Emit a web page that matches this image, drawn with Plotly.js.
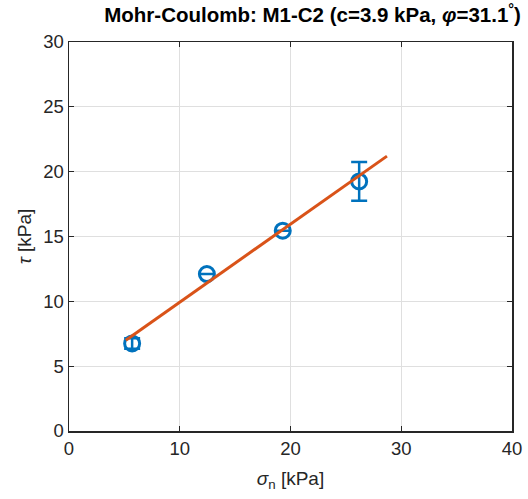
<!DOCTYPE html>
<html><head><meta charset="utf-8">
<script src="https://cdn.plot.ly/plotly-3.0.1.min.js"></script>
<style>html,body{margin:0;padding:0;background:#fff}#chart{width:528px;height:499px}</style>
</head><body><div id="chart"></div>
<script>
const sigmaN = [5.7, 12.45, 19.3, 26.2];
const tau = [6.75, 12.1, 15.45, 19.25];
const tauErr = [0.4, 0.0, 0.0, 1.5];
const fitX = [5.13, 28.71];
const fitY = [7.0, 21.2];
const xTicks = [0, 10, 20, 30, 40];
const yTicks = [0, 5, 10, 15, 20, 25, 30];

const FONT = 'Liberation Sans, Arial, sans-serif';
const data = [
  {x: sigmaN, y: tau, type: 'scatter', mode: 'markers',
   marker: {symbol: 'circle-open', size: 15, color: '#0072BD', line: {width: 3, color: '#0072BD'}},
   error_y: {type: 'data', array: tauErr, visible: true, color: '#0072BD', thickness: 2.5, width: 8},
   showlegend: false, hoverinfo: 'skip'},
  {x: fitX, y: fitY, type: 'scatter', mode: 'lines',
   line: {color: '#D95319', width: 3}, showlegend: false, hoverinfo: 'skip'}
];
const axBase = {showline: true, mirror: 'ticks', linecolor: '#262626', linewidth: 1.5,
  ticks: 'inside', ticklen: 5, tickcolor: '#262626', showgrid: true, gridcolor: '#dfdfdf', gridwidth: 1.2,
  zeroline: false, tickfont: {family: FONT, size: 18.5, color: '#262626'}};
const layout = {
  width: 528, height: 499,
  margin: {l: 69, r: 16, t: 42, b: 68},
  paper_bgcolor: '#fff', plot_bgcolor: '#fff',
  title: {text: '<b>Mohr-Coulomb: M1-C2 (c=3.9 kPa, <i>φ</i>=31.1<sup>°</sup>)</b>',
    font: {family: FONT, size: 20.5, color: '#000'},
    x: 0.592, xanchor: 'center', y: 0.984, yanchor: 'top'},
  xaxis: Object.assign({}, axBase, {range: [0, 40], tickvals: xTicks,
    title: {text: '<i>σ</i><sub>n</sub> [kPa]', font: {family: FONT, size: 19, color: '#262626'}, standoff: 14}}),
  yaxis: Object.assign({}, axBase, {range: [0, 30], tickvals: yTicks,
    title: {text: '<i>τ</i> [kPa]', font: {family: FONT, size: 19, color: '#262626'}, standoff: 6}})
};
Plotly.newPlot('chart', data, layout, {displayModeBar: false, staticPlot: true});
</script></body></html>
